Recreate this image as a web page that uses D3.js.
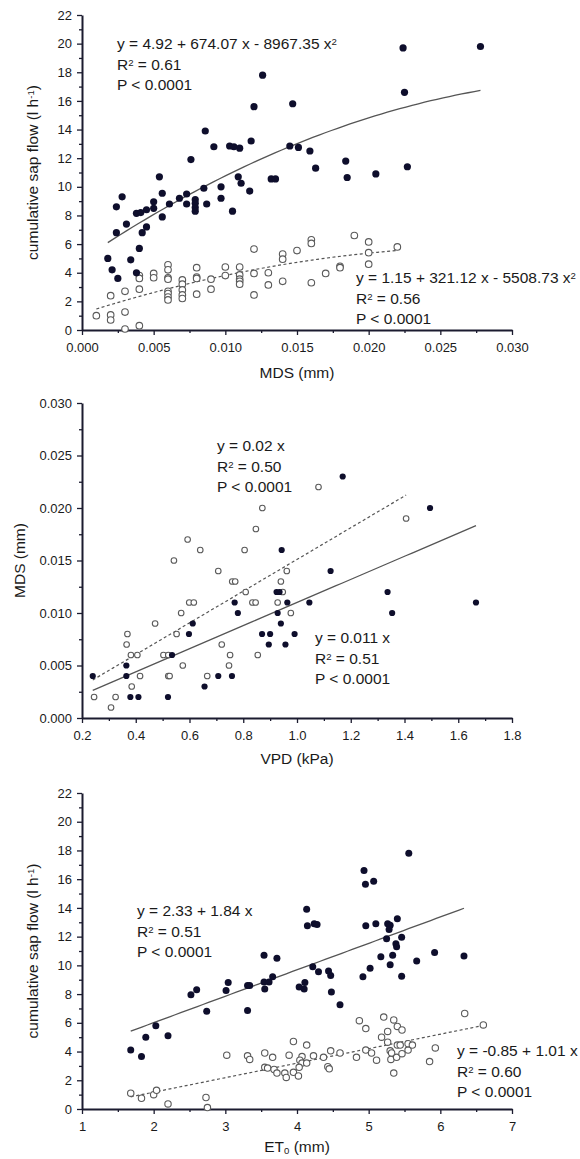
<!DOCTYPE html>
<html>
<head>
<meta charset="utf-8">
<script src="https://cdn.jsdelivr.net/npm/d3@7"></script>
<style>
  body { margin: 0; background: #fff; }
  svg text { font-family: "Liberation Sans", Arial, sans-serif; fill: #1a1a1a; }
</style>
</head>
<body>
<div id="chart"></div>
<script>
// ---- Panel 1: cumulative sap flow vs MDS ----
const p1Filled = [[0.0018,5.0],[0.0021,4.2],[0.0025,3.6],[0.0024,8.6],[0.0024,6.8],[0.0028,9.3],[0.0031,7.4],[0.0034,4.9],[0.0038,4.0],[0.0040,5.7],[0.0038,8.15],[0.0041,8.2],[0.0045,8.4],[0.0042,6.8],[0.0045,7.2],[0.0050,8.95],[0.0050,8.5],[0.0054,10.7],[0.0056,9.55],[0.0056,7.9],[0.0061,8.8],[0.0068,9.2],[0.0073,9.5],[0.0073,8.8],[0.0079,9.1],[0.0079,8.85],[0.0079,8.55],[0.0079,8.3],[0.0076,11.9],[0.0085,9.9],[0.0087,8.8],[0.0086,13.9],[0.0092,12.8],[0.0097,10.0],[0.0097,9.2],[0.0103,12.85],[0.0106,12.8],[0.0110,12.7],[0.0105,8.3],[0.0109,10.7],[0.0111,10.25],[0.0117,9.7],[0.0118,13.2],[0.0120,15.6],[0.0126,17.8],[0.0132,10.55],[0.0135,10.55],[0.0145,12.85],[0.0147,15.8],[0.0151,12.75],[0.0159,12.5],[0.0163,11.3],[0.0184,11.8],[0.0185,10.65],[0.0205,10.9],[0.0224,19.7],[0.0225,16.6],[0.0227,11.4],[0.0278,19.8]];
const p1Open = [[0.0010,1.0],[0.0020,2.4],[0.0020,1.05],[0.0020,0.7],[0.0030,2.7],[0.0030,1.25],[0.0030,0.07],[0.0040,2.85],[0.0040,3.8],[0.0040,3.6],[0.0040,0.3],[0.0050,3.95],[0.0050,3.65],[0.006,4.55],[0.006,4.2],[0.006,3.65],[0.006,3.55],[0.006,2.7],[0.006,2.55],[0.006,2.3],[0.006,2.1],[0.007,3.5],[0.007,3.2],[0.007,2.8],[0.007,2.45],[0.007,2.2],[0.008,4.35],[0.008,3.7],[0.008,3.6],[0.008,2.5],[0.009,3.55],[0.009,2.85],[0.010,4.4],[0.010,3.8],[0.011,4.4],[0.011,3.85],[0.011,3.55],[0.011,3.4],[0.011,3.2],[0.012,5.65],[0.012,3.95],[0.012,2.45],[0.013,4.0],[0.013,3.15],[0.014,5.3],[0.014,4.95],[0.014,3.4],[0.015,5.55],[0.016,6.3],[0.016,6.05],[0.016,3.3],[0.017,3.95],[0.018,4.45],[0.018,4.35],[0.019,6.6],[0.020,6.15],[0.020,5.4],[0.020,4.6],[0.022,5.8]];
const p1FitFilled = { coef: [4.92, 674.07, -8967.35], range: [0.0018, 0.0278] };
const p1FitOpen = { coef: [1.15, 321.12, -5508.73], range: [0.001, 0.022] };
const p1XTicks = [0, 0.005, 0.010, 0.015, 0.020, 0.025, 0.030];
const p1YTicks = [0, 2, 4, 6, 8, 10, 12, 14, 16, 18, 20, 22];

// ---- Panel 2: MDS vs VPD ----
const p2Filled = [[0.24,0.004],[0.365,0.005],[0.365,0.004],[0.38,0.002],[0.41,0.002],[0.52,0.002],[0.535,0.006],[0.598,0.008],[0.612,0.009],[0.656,0.003],[0.707,0.004],[0.758,0.004],[0.768,0.011],[0.78,0.010],[0.87,0.008],[0.90,0.008],[0.895,0.007],[0.957,0.007],[0.924,0.012],[0.935,0.012],[0.964,0.011],[0.928,0.010],[0.94,0.009],[0.943,0.016],[0.991,0.008],[1.046,0.011],[1.125,0.014],[1.17,0.023],[1.337,0.012],[1.354,0.010],[1.495,0.020],[1.666,0.011]];
const p2Open = [[0.245,0.002],[0.308,0.001],[0.325,0.002],[0.369,0.008],[0.366,0.007],[0.385,0.003],[0.382,0.006],[0.406,0.006],[0.416,0.004],[0.472,0.009],[0.503,0.006],[0.521,0.006],[0.521,0.004],[0.526,0.004],[0.542,0.015],[0.552,0.008],[0.569,0.010],[0.575,0.005],[0.593,0.017],[0.599,0.011],[0.616,0.011],[0.64,0.016],[0.666,0.004],[0.707,0.014],[0.72,0.007],[0.747,0.005],[0.751,0.006],[0.759,0.013],[0.770,0.013],[0.805,0.016],[0.809,0.012],[0.834,0.011],[0.846,0.011],[0.847,0.018],[0.854,0.006],[0.871,0.020],[0.928,0.011],[0.94,0.013],[0.947,0.012],[0.962,0.014],[0.977,0.010],[1.08,0.022],[1.406,0.019]];
const p2FitFilled = { coef: [0, 0.011], range: [0.24, 1.666] };
const p2FitOpen = { coef: [0, 0.0151], range: [0.24, 1.406] };
const p2XTicks = [0.2, 0.4, 0.6, 0.8, 1.0, 1.2, 1.4, 1.6, 1.8];
const p2YTicks = [0, 0.005, 0.010, 0.015, 0.020, 0.025, 0.030];

// ---- Panel 3: cumulative sap flow vs ET0 ----
const p3Filled = [[1.68,4.1],[1.83,3.65],[1.89,5.0],[2.03,5.8],[2.2,5.1],[2.52,7.95],[2.6,8.3],[2.74,6.8],[3.01,8.25],[3.04,8.8],[3.31,8.6],[3.34,8.6],[3.31,6.85],[3.54,8.85],[3.61,8.85],[3.55,8.35],[3.66,9.2],[3.54,10.7],[3.72,10.5],[4.03,8.5],[4.1,8.35],[4.11,8.8],[4.135,13.9],[4.145,12.75],[4.24,12.9],[4.28,12.85],[4.22,9.9],[4.3,9.55],[4.44,9.6],[4.47,9.3],[4.48,8.15],[4.6,7.25],[4.92,9.2],[4.935,16.6],[4.955,15.65],[5.07,15.85],[4.96,12.75],[5.1,12.9],[5.02,9.8],[5.265,12.9],[5.3,12.8],[5.285,12.5],[5.4,13.25],[5.25,11.85],[5.46,11.95],[5.38,11.5],[5.39,11.3],[5.17,10.6],[5.335,10.7],[5.3,10.05],[5.46,9.25],[5.67,10.3],[5.56,17.8],[5.92,10.9],[6.33,10.65]];
const p3Open = [[1.68,1.1],[1.83,0.75],[2.0,1.0],[2.04,1.3],[2.2,0.35],[2.73,0.8],[2.75,0.1],[3.02,3.75],[3.31,3.7],[3.34,3.45],[3.55,3.9],[3.66,3.6],[3.55,2.9],[3.59,2.85],[3.68,2.75],[3.72,2.5],[3.83,2.5],[3.85,2.2],[3.89,3.75],[3.95,4.7],[4.07,3.65],[4.04,3.4],[4.07,3.2],[4.135,4.45],[4.135,3.2],[4.03,2.9],[3.95,2.55],[4.02,2.3],[4.23,3.7],[4.37,3.6],[4.47,4.05],[4.6,3.9],[4.43,2.95],[4.45,2.8],[4.83,3.6],[4.96,4.1],[5.04,3.9],[4.87,6.15],[4.96,5.6],[5.11,3.4],[5.18,5.0],[5.265,5.4],[5.21,6.4],[5.35,6.2],[5.4,5.75],[5.465,5.5],[5.265,4.65],[5.3,4.05],[5.32,3.9],[5.31,3.45],[5.39,3.6],[5.4,4.45],[5.44,4.45],[5.465,3.85],[5.55,4.1],[5.55,4.55],[5.61,4.45],[5.35,2.5],[5.85,3.3],[5.93,4.25],[6.34,6.65],[6.6,5.85]];
const p3FitFilled = { coef: [2.33, 1.84], range: [1.68, 6.33] };
const p3FitOpen = { coef: [-0.85, 1.01], range: [1.68, 6.6] };
const p3XTicks = [1, 2, 3, 4, 5, 6, 7];
const p3YTicks = [0, 2, 4, 6, 8, 10, 12, 14, 16, 18, 20, 22];

// Colors
const dotColor = '#0e0e2c';
const openStroke = '#5a5a5a';
const lineColor = '#555';
const axisColor = '#1b1b2f';

const width = 580, height = 1159;
const left = 82, right = 512;

const svg = d3.select('#chart').append('svg')
    .attr('width', width)
    .attr('height', height);

// Evaluate polynomial for the fit line
function poly(coef, x) {
    return coef.reduce((acc, c, i) => acc + c * Math.pow(x, i), 0);
}

// Add a text line that may contain super/subscripts: parts = [[text, 'sup'|'sub'|null], ...]
function richText(g, x, y, parts, size) {
    const t = g.append('text').attr('x', x).attr('y', y).style('font-size', size + 'px');
    parts.forEach(p => {
        const s = t.append('tspan').text(p[0]);
        if (p[1] === 'sup') s.attr('baseline-shift', '38%').style('font-size', (size * 0.62) + 'px');
        if (p[1] === 'sub') s.attr('baseline-shift', '-20%').style('font-size', (size * 0.62) + 'px');
    });
    return t;
}

function drawPanel(cfg) {
    const g = svg.append('g');

    const x = d3.scaleLinear().domain(cfg.xDomain).range([left, right]);
    const y = d3.scaleLinear().domain(cfg.yDomain).range([cfg.bottom, cfg.top]);

    // Minor ticks (midpoints between majors)
    const midX = cfg.xTicks.slice(1).map((v, i) => (v + cfg.xTicks[i]) / 2);
    const midY = cfg.yTicks.slice(1).map((v, i) => (v + cfg.yTicks[i]) / 2);

    g.append('g')
        .attr('transform', `translate(0, ${cfg.bottom})`)
        .call(d3.axisBottom(x).tickValues(midX).tickSize(3).tickSizeOuter(0).tickFormat(''))
        .call(a => a.select('.domain').remove());
    g.append('g')
        .attr('transform', `translate(${left}, 0)`)
        .call(d3.axisLeft(y).tickValues(midY).tickSize(3).tickSizeOuter(0).tickFormat(''))
        .call(a => a.select('.domain').remove());

    // Major axes
    const xa = g.append('g')
        .attr('transform', `translate(0, ${cfg.bottom})`)
        .call(d3.axisBottom(x).tickValues(cfg.xTicks).tickSize(5).tickPadding(8).tickSizeOuter(0).tickFormat(cfg.xFormat));
    const ya = g.append('g')
        .attr('transform', `translate(${left}, 0)`)
        .call(d3.axisLeft(y).tickValues(cfg.yTicks).tickSize(5).tickPadding(5).tickSizeOuter(0).tickFormat(cfg.yFormat));

    [xa, ya].forEach(a => {
        a.select('.domain').attr('stroke', axisColor).attr('stroke-width', 2);
        a.selectAll('.tick text').style('font-size', '13px').attr('fill', '#1a1a1a');
    });
    g.selectAll('.tick line').attr('stroke', axisColor).attr('stroke-width', 1.3);

    // Fit lines
    const line = d3.line().x(d => x(d[0])).y(d => y(d[1]));
    const fitPts = f => {
        const n = 60, step = (f.range[1] - f.range[0]) / n;
        return d3.range(n + 1).map(i => {
            const xv = f.range[0] + i * step;
            return [xv, poly(f.coef, xv)];
        });
    };
    g.append('path').datum(fitPts(cfg.fitOpen))
        .attr('d', line).attr('fill', 'none')
        .attr('stroke', lineColor).attr('stroke-width', 1.2)
        .attr('stroke-dasharray', '3,2.5');
    g.append('path').datum(fitPts(cfg.fitFilled))
        .attr('d', line).attr('fill', 'none')
        .attr('stroke', lineColor).attr('stroke-width', 1.3);

    // Open circles
    g.selectAll('.open').data(cfg.open).enter().append('circle')
        .attr('class', 'open')
        .attr('cx', d => x(d[0])).attr('cy', d => y(d[1]))
        .attr('r', cfg.r).attr('fill', 'white')
        .attr('stroke', openStroke).attr('stroke-width', 1.1);

    // Filled circles
    g.selectAll('.filled').data(cfg.filled).enter().append('circle')
        .attr('class', 'filled')
        .attr('cx', d => x(d[0])).attr('cy', d => y(d[1]))
        .attr('r', cfg.r + 0.3).attr('fill', dotColor);

    // Axis titles
    const xt = richText(g, (left + right) / 2, cfg.bottom + cfg.xTitleGap, cfg.xTitle, 15.5);
    xt.attr('text-anchor', 'middle');
    const yt = richText(g, 0, 0, cfg.yTitle, 15.5);
    yt.attr('text-anchor', 'middle')
        .attr('transform', `translate(${cfg.yTitleX}, ${(cfg.top + cfg.bottom) / 2}) rotate(-90)`);

    // Equation annotations
    cfg.notes.forEach(n => {
        n.lines.forEach((parts, i) => {
            richText(g, n.x, n.y + i * 20.5, parts, 15.5);
        });
    });
}

drawPanel({
    top: 15, bottom: 330,
    xDomain: [0, 0.030], yDomain: [0, 22],
    xTicks: p1XTicks, yTicks: p1YTicks,
    xFormat: d3.format('.3f'), yFormat: d3.format('d'),
    filled: p1Filled, open: p1Open,
    fitFilled: p1FitFilled, fitOpen: p1FitOpen,
    r: 3.3,
    xTitle: [['MDS (mm)', null]],
    xTitleGap: 48,
    yTitle: [['cumulative sap flow (l h', null], ['-1', 'sup'], [')', null]],
    yTitleX: 38,
    notes: [
        { x: 117, y: 49, lines: [
            [['y = 4.92 + 674.07 x - 8967.35 x', null], ['2', 'sup']],
            [['R', null], ['2', 'sup'], [' = 0.61', null]],
            [['P < 0.0001', null]]
        ] },
        { x: 356, y: 283, lines: [
            [['y = 1.15 + 321.12 x - 5508.73 x', null], ['2', 'sup']],
            [['R', null], ['2', 'sup'], [' = 0.56', null]],
            [['P < 0.0001', null]]
        ] }
    ]
});

drawPanel({
    top: 403, bottom: 718,
    xDomain: [0.2, 1.8], yDomain: [0, 0.030],
    xTicks: p2XTicks, yTicks: p2YTicks,
    xFormat: d3.format('.1f'), yFormat: d3.format('.3f'),
    filled: p2Filled, open: p2Open,
    fitFilled: p2FitFilled, fitOpen: p2FitOpen,
    r: 2.8,
    xTitle: [['VPD (kPa)', null]],
    xTitleGap: 46,
    yTitle: [['MDS (mm)', null]],
    yTitleX: 25,
    notes: [
        { x: 217, y: 451, lines: [
            [['y = 0.02 x', null]],
            [['R', null], ['2', 'sup'], [' = 0.50', null]],
            [['P < 0.0001', null]]
        ] },
        { x: 315, y: 643, lines: [
            [['y = 0.011 x', null]],
            [['R', null], ['2', 'sup'], [' = 0.51', null]],
            [['P < 0.0001', null]]
        ] }
    ]
});

drawPanel({
    top: 793, bottom: 1109,
    xDomain: [1, 7], yDomain: [0, 22],
    xTicks: p3XTicks, yTicks: p3YTicks,
    xFormat: d3.format('d'), yFormat: d3.format('d'),
    filled: p3Filled, open: p3Open,
    fitFilled: p3FitFilled, fitOpen: p3FitOpen,
    r: 3.2,
    xTitle: [['ET', null], ['0', 'sub'], [' (mm)', null]],
    xTitleGap: 43,
    yTitle: [['cumulative sap flow (l h', null], ['-1', 'sup'], [')', null]],
    yTitleX: 38,
    notes: [
        { x: 137, y: 916, lines: [
            [['y = 2.33 + 1.84 x', null]],
            [['R', null], ['2', 'sup'], [' = 0.51', null]],
            [['P < 0.0001', null]]
        ] },
        { x: 457, y: 1056, lines: [
            [['y = -0.85 + 1.01 x', null]],
            [['R', null], ['2', 'sup'], [' = 0.60', null]],
            [['P < 0.0001', null]]
        ] }
    ]
});
</script>
</body>
</html>
